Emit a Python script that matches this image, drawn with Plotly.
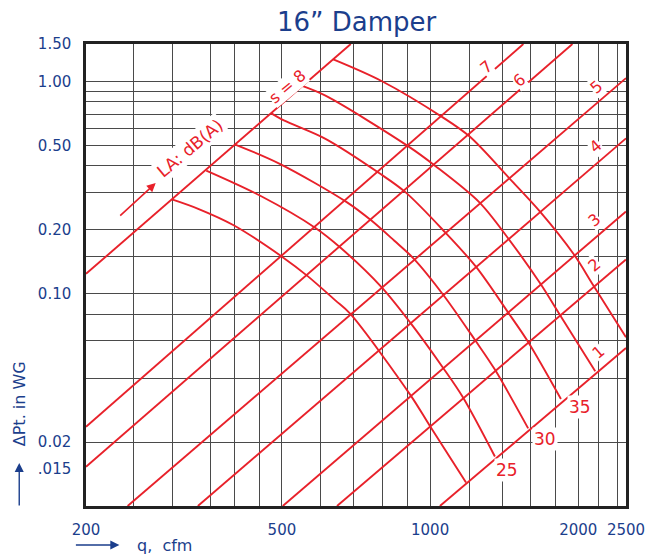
import numpy as np
import plotly.graph_objects as go

# ---------------- data ----------------
title = "16\u201d Damper"

# blade positions: straight system lines (endpoints on the chart border)
s_labels = ["1", "2", "3", "4", "5", "6", "7", "s = 8"]
s_q_start = [1047, 647, 502, 337.5, 243, 200, 200, 200]
s_dp_start = [0.01, 0.01, 0.01, 0.01, 0.01, 0.0153, 0.0236, 0.124]
s_q_end = [2500, 2500, 2500, 2500, 2500, 1946, 1547, 690]
s_dp_end = [0.0555, 0.145, 0.244, 0.539, 1.036, 1.5, 1.5, 1.5]

# sound power curves LA dB(A)
q_20 = [299, 338, 399, 501, 564, 642, 688, 913, 997, 1183]
dp_20 = [0.278, 0.251, 0.210, 0.149, 0.121, 0.093, 0.0805, 0.0332, 0.0240, 0.0129]
q_25 = [351, 451, 585, 657, 795, 913, 1063, 1165, 1354]
dp_25 = [0.380, 0.290, 0.204, 0.165, 0.108, 0.0727, 0.0447, 0.0326, 0.0171]
q_30 = [402, 495, 677, 760, 845, 927, 1063, 1235, 1354, 1582]
dp_30 = [0.504, 0.409, 0.270, 0.221, 0.178, 0.146, 0.0989, 0.0603, 0.0439, 0.0232]
q_35 = [476, 506, 613, 789, 892, 1072, 1239, 1443, 1582, 1844]
dp_35 = [0.707, 0.653, 0.536, 0.369, 0.300, 0.195, 0.134, 0.0811, 0.0592, 0.0319]
q_40 = [548, 613, 905, 1023, 1258, 1439, 1677, 1829, 2165]
dp_40 = [0.954, 0.856, 0.493, 0.401, 0.270, 0.183, 0.111, 0.0805, 0.0431]
q_45 = [634, 795, 1063, 1202, 1443, 1669, 1960, 2148, 2500]
dp_45 = [1.273, 1.007, 0.675, 0.551, 0.353, 0.245, 0.153, 0.109, 0.0623]

db_curves = [(20, q_20, dp_20), (25, q_25, dp_25), (30, q_30, dp_30),
             (35, q_35, dp_35), (40, q_40, dp_40), (45, q_45, dp_45)]
db_labelled = ["25", "30", "35"]

x_tick_vals = [200, 500, 1000, 2000, 2500]
x_tick_text = ["200", "500", "1000", "2000", "2500"]
x_grid = [250, 300, 358, 400, 450, 500, 600, 700, 800, 900, 1000,
          1200, 1400, 1600, 1800, 2000, 2200, 2400]
y_tick_vals = [0.015, 0.02, 0.1, 0.2, 0.5, 1.0, 1.5]
y_tick_text = [".015", "0.02", "0.10", "0.20", "0.50", "1.00", "1.50"]
y_grid = [0.02, 0.04, 0.06, 0.08, 0.1, 0.15, 0.2, 0.3, 0.4, 0.5,
          0.6, 0.7, 0.8, 0.9, 1.0]
x_range = [200, 2500]
y_range = [0.01, 1.5]

# ---------------- style ----------------
W, H = 657, 559
ML, MR, MT, MB = 86, 21, 44, 53
RED = "#e8212a"
BLUE = "#1b3e8c"
GRID = "#4a4a4a"
FONT = "DejaVu Sans"

# reference-pixel -> paper helpers (plot area 86..636 x 44..506)
def px(x):
    return (x - ML) / (W - ML - MR)

def py(y):
    return (H - MB - y) / (H - MT - MB)

fig = go.Figure()

for lab, q0, d0, q1, d1 in zip(s_labels, s_q_start, s_dp_start, s_q_end, s_dp_end):
    fig.add_trace(go.Scatter(x=[q0, q1], y=[d0, d1], mode="lines",
                             line=dict(color=RED, width=1.9),
                             hoverinfo="skip", showlegend=False))

for db, q, dp in db_curves:
    fig.add_trace(go.Scatter(x=q, y=dp, mode="lines",
                             line=dict(color=RED, width=1.9, shape="spline", smoothing=0.9),
                             hoverinfo="skip", showlegend=False))

ann = []
def label(x, y, text, size, color, angle=0, bg=None, pad=1):
    d = dict(x=px(x), y=py(y), xref="paper", yref="paper", text=text,
             showarrow=False, textangle=angle, xanchor="center", yanchor="middle",
             font=dict(family=FONT, size=size, color=color))
    if bg:
        d.update(bgcolor=bg, borderpad=pad)
    ann.append(d)

# rotated labels along the blade lines
rot_labels = {
    "7": (493, 67), "6": (527, 80), "5": (605, 87), "4": (605, 147),
    "3": (603, 220), "2": (603, 265), "1": (607, 352), "s = 8": (291, 86),
}
for lab, (x, y) in rot_labels.items():
    label(x, y, lab, 16, RED, angle=-40, bg="white", pad=0)
label(192, 148, "LA: dB(A)", 17, RED, angle=-40, bg="white", pad=1)
# arrow pointing to the LA label
ann.append(dict(x=px(157), y=py(183), xref="paper", yref="paper", text="",
                showarrow=True, arrowhead=2, arrowsize=1.1, arrowwidth=1.6,
                arrowcolor=RED, ax=-37, ay=34))
# dB labels next to the curve ends
db_label_pos = {"25": (515, 470), "30": (554, 439), "35": (589, 407)}
for txt in db_labelled:
    x, y = db_label_pos[txt]
    label(x, y, txt, 17, RED, bg="white", pad=1)

# title
label(362, 22, title, 26, BLUE)
# axis titles with arrows
label(18, 404, "\u0394Pt. in WG", 16, BLUE, angle=-90)
ann.append(dict(x=px(18), y=py(463), xref="paper", yref="paper", text="",
                showarrow=True, arrowhead=2, arrowsize=1.3, arrowwidth=1.4,
                arrowcolor=BLUE, ax=0, ay=44))
label(166, 545, "q,  cfm", 16, BLUE)
ann.append(dict(x=px(120), y=py(545), xref="paper", yref="paper", text="",
                showarrow=True, arrowhead=2, arrowsize=1.3, arrowwidth=1.4,
                arrowcolor=BLUE, ax=-45, ay=0))

fig.update_layout(
    width=W, height=H, margin=dict(l=ML, r=MR, t=MT, b=MB),
    paper_bgcolor="white", plot_bgcolor="white",
    annotations=ann, showlegend=False,
    xaxis=dict(type="log", range=[np.log10(x_range[0]), np.log10(x_range[1])],
               tickmode="array", tickvals=x_tick_vals, ticktext=x_tick_text,
               showgrid=False, zeroline=False, ticks="", ticklabelstandoff=8,
               tickfont=dict(family=FONT, size=15, color=BLUE),
               showline=True, mirror=True, linecolor="#222", linewidth=2.5,
               minor=dict(tickmode="array", tickvals=x_grid, showgrid=True,
                          gridcolor=GRID, gridwidth=1, ticks="")),
    yaxis=dict(type="log", range=[np.log10(y_range[0]), np.log10(y_range[1])],
               tickmode="array", tickvals=y_tick_vals, ticktext=y_tick_text,
               showgrid=False, zeroline=False, ticks="", ticklabelstandoff=9,
               tickfont=dict(family=FONT, size=15, color=BLUE),
               showline=True, mirror=True, linecolor="#222", linewidth=2.5,
               minor=dict(tickmode="array", tickvals=y_grid, showgrid=True,
                          gridcolor=GRID, gridwidth=1, ticks="")),
)

# the page's default body margin would shift the 657x559 figure; remove it
fig.write_html("out.html", config={"displayModeBar": False},
               post_script="document.body.style.margin='0px';"
                           "document.documentElement.style.overflow='hidden';")
